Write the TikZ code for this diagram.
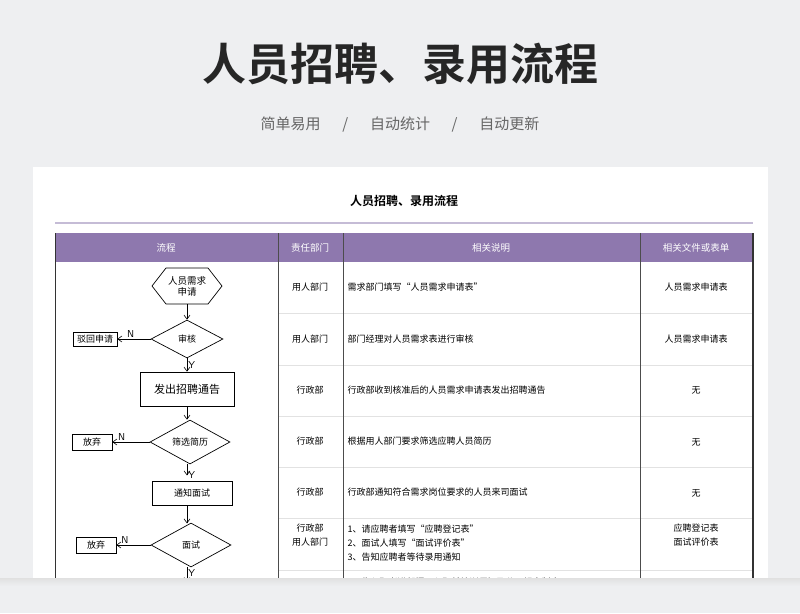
\documentclass[tikz,border=0pt]{standalone}
\usepackage{fontspec}
\setmainfont{Noto Sans CJK SC}
\newfontfamily\cjkb{Noto Sans CJK SC Bold}
\usetikzlibrary{shapes.geometric,arrows.meta}
\definecolor{bg}{HTML}{EEEFF1}
\definecolor{hdr}{HTML}{8E78AE}
\definecolor{lav}{HTML}{C5BCD6}
\definecolor{sep}{HTML}{E2E2E2}
\begin{document}
\begin{tikzpicture}[x=1pt,y=-1pt,
  fl/.style={draw=black,line width=0.7pt,fill=white,inner sep=1pt,align=center,font=\fontsize{9}{10}\selectfont},
  dia/.style={fl,diamond,aspect=1.9},
  arr/.style={-{Straight Barb[length=4pt,width=6pt]},line width=0.6pt},
  cell/.style={font=\fontsize{9}{14}\selectfont,align=center},
  yn/.style={font=\sffamily\fontsize{10}{10}\selectfont,inner sep=1pt}]
\useasboundingbox (0,0) rectangle (800,613);
\fill[bg] (0,0) rectangle (800,613);
\node[text=black!85] (title) at (400,64) {\cjkb\fontsize{44}{48}\selectfont 人员招聘、录用流程};
\node[text=black!60] (sub) at (400,125) {\fontsize{15}{16}\selectfont 简单易用\quad\ \ /\ \ \quad 自动统计\quad\ \ /\ \ \quad 自动更新};
\fill[white] (33,167) rectangle (768,613);
\node (ct) at (404,201) {\cjkb\fontsize{12}{14}\selectfont 人员招聘、录用流程};
\draw[lav,line width=1.6pt] (55,223) -- (753,223);
\fill[hdr] (55,233) rectangle (753,262);
\foreach \x/\t in {166/流程,310/责任部门,491/相关说明,696/相关文件或表单}
  \node[text=white,font=\fontsize{9.5}{10}\selectfont] at (\x,247.5) {\t};
\foreach \y in {313,365,416,467,518,570}
  \draw[sep] (278,\y) -- (753,\y);
\draw[black!80,line width=0.8pt] (55,233) -- (55,613);
\foreach \x in {278,343,640} \draw[black!70,line width=0.6pt] (\x,233) -- (\x,613);
\draw[black!80,line width=1.2pt] (753,233) -- (753,613);
% table text
\node[cell] (d1) at (310,287) {用人部门};
\node[cell] (d2) at (310,339) {用人部门};
\node[cell] (d3) at (310,390) {行政部};
\node[cell] (d4) at (310,441) {行政部};
\node[cell] (d5) at (310,492) {行政部};
\node[cell] (d6) at (310,535) {行政部\\用人部门};
\node[cell,anchor=west] (s1) at (344,287) {需求部门填写“人员需求申请表”};
\node[cell,anchor=west] (s2) at (344,339) {部门经理对人员需求表进行审核};
\node[cell,anchor=west] (s3) at (344,390) {行政部收到核准后的人员需求申请表发出招聘通告};
\node[cell,anchor=west] (s4) at (344,441) {根据用人部门要求筛选应聘人员简历};
\node[cell,anchor=west] (s5) at (344,492) {行政部通知符合需求岗位要求的人员来司面试};
\node[cell,anchor=west,align=left] (s6) at (344,543) {1、请应聘者填写“应聘登记表”\\2、面试人填写“面试评价表”\\3、告知应聘者等待录用通知};
\node[cell,anchor=west] (s7) at (344,582) {1、告入职者进部门于入职前培训须知及公司规章制度};
\node[cell] (f1) at (696,287) {人员需求申请表};
\node[cell] (f2) at (696,339) {人员需求申请表};
\node[cell] (f3) at (696,390) {无};
\node[cell] (f4) at (696,442) {无};
\node[cell] (f5) at (696,493) {无};
\node[cell] (f6) at (696,535) {应聘登记表\\面试评价表};
% flowchart
\draw[line width=0.7pt] (152,286) -- (166,268) -- (208,268) -- (222,286) -- (208,304) -- (166,304) -- cycle;
\node[align=center,font=\fontsize{9.5}{11}\selectfont] (ht) at (187,286) {人员需求\\申请};
\coordinate (hb) at (187,304);
\node[dia,minimum width=72pt,minimum height=38pt,inner sep=0pt] (a) at (187,339) {审核};
\node[fl,minimum width=44pt,minimum height=14pt] (r1) at (95,339) {驳回申请};
\node[fl,minimum width=94pt,minimum height=34pt,font=\fontsize{11}{12}\selectfont] (p) at (187,389) {发出招聘通告};
\node[dia,minimum width=80pt,minimum height=44pt,inner sep=0pt] (b) at (190,442) {筛选简历};
\node[fl,minimum width=40pt,minimum height=16pt] (r2) at (92,442) {放弃};
\node[fl,minimum width=80pt,minimum height=24pt] (n) at (192,493) {通知面试};
\node[dia,minimum width=80pt,minimum height=44pt,inner sep=0pt] (c) at (191,545) {面试};
\node[fl,minimum width=40pt,minimum height=16pt] (r3) at (96,545) {放弃};
\coordinate (end) at (187,582);
\draw[arr] (hb) -- (a.north);
\draw[arr] (a.west) -- (r1.east) node[yn,pos=0.6,above] {N};
\draw[arr] (a.south) -- (p.north) node[yn,pos=0.5,right] {Y};
\draw[arr] (p.south) -- (p.south|-b.north);
\draw[arr] (b.west) -- (r2.east) node[yn,pos=0.75,above] {N};
\draw[arr] (b.south-|n.north) ++(-5,0) -- ++(0,11) node[yn,right] {Y};
\draw[arr] (n.south) ++(-5,0) -- ++(0,18);
\draw[arr] (c.west) -- (r3.east) node[yn,pos=0.75,above] {N};
\draw[arr] (c.south) ++(-4,0) -- (end) node[yn,right,pos=0.4] {Y};
% bottom fade
\fill[bg] (0,580) rectangle (800,613);
\shade[top color=black!12,bottom color=bg] (0,578) rectangle (800,586);
\end{tikzpicture}
\end{document}
